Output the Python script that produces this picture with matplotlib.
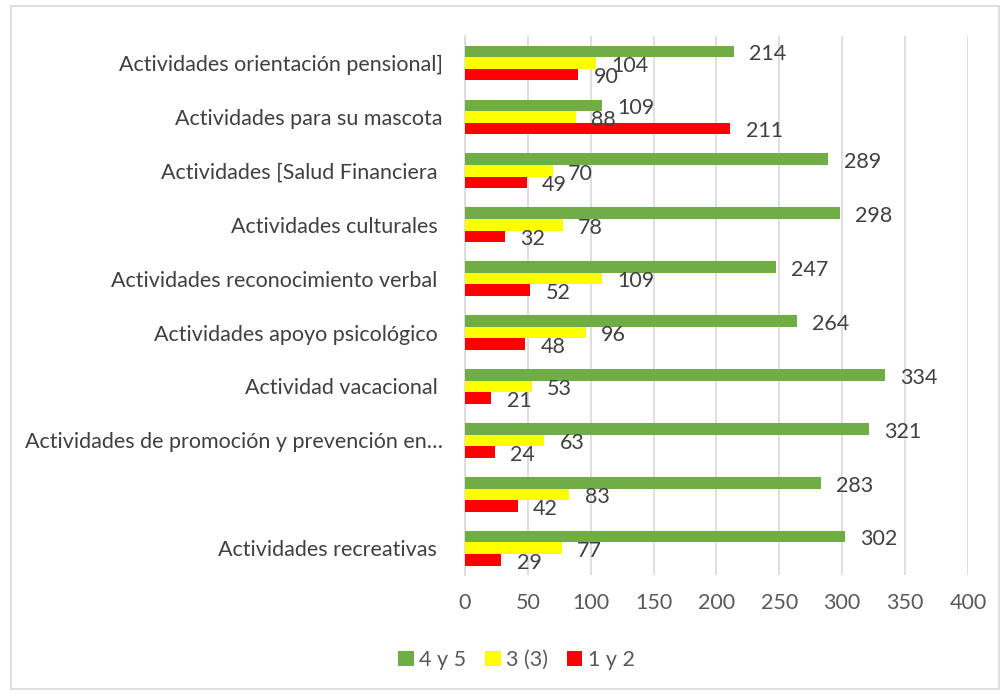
import matplotlib
matplotlib.use("Agg")
import matplotlib.pyplot as plt
import numpy as np
from matplotlib.patches import Rectangle

categories = [
    "Actividades orientación pensional]",
    "Actividades para su mascota",
    "Actividades [Salud Financiera ",
    "Actividades culturales ",
    "Actividades reconocimiento verbal ",
    "Actividades apoyo psicológico ",
    "Actividad vacacional ",
    "Actividades de promoción y prevención en…",
    "",
    "Actividades recreativas ",
]
series_names = ["4 y 5", "3 (3)", "1 y 2"]
v45 = [214, 109, 289, 298, 247, 264, 334, 321, 283, 302]
v3 = [104, 88, 70, 78, 109, 96, 53, 63, 83, 77]
v12 = [90, 211, 49, 32, 52, 48, 21, 24, 42, 29]
colors = ["#70AD47", "#FFFF00", "#FF0000"]
xticks = [0, 50, 100, 150, 200, 250, 300, 350, 400]

plt.rcParams['font.family'] = ['Lato', 'DejaVu Sans']
fig = plt.figure(figsize=(10.03, 6.93), dpi=100)
ax = fig.add_axes([0.4636, 0.170, 0.5014, 0.778])

n = len(categories)
y = np.arange(n)
h = 0.215
offsets = [-h, 0, h]
for vals, off, c, name in zip([v45, v3, v12], offsets, colors, series_names):
    bars = ax.barh(y + off, vals, height=h, color=c, label=name, zorder=3)
    for b, v in zip(bars, vals):
        ax.annotate(str(v), (b.get_width(), b.get_y() + b.get_height() / 2),
                    xytext=(11, -2), textcoords="offset points",
                    va="center", ha="left", fontsize=15.5, color="#404040", zorder=4)

ax.set_ylim(n - 0.5, -0.5)
ax.set_xlim(0, 400)
ax.set_xticks(xticks)
ax.set_xticklabels([str(t) for t in xticks])
ax.set_yticks(y)
ax.set_yticklabels(categories)
ax.tick_params(axis='x', length=0, labelsize=15.5, labelcolor="#595959", pad=13)
ax.tick_params(axis='y', length=0, labelsize=15.5, labelcolor="#404040", pad=16)
ax.grid(axis='x', color="#D9D9D9", linewidth=1.2, zorder=0)
for s in ["top", "right", "bottom"]:
    ax.spines[s].set_visible(False)
ax.spines["left"].set_color("#D9D9D9")
ax.spines["left"].set_linewidth(1.2)

leg = fig.legend(loc="center", bbox_to_anchor=(0.515, 0.048), ncol=3, frameon=False,
                 fontsize=15.5, handlelength=0.7, handleheight=0.7, handletextpad=0.25,
                 columnspacing=0.9, labelcolor="#595959")

fig.patches.append(Rectangle((0.011, 0.006), 0.985, 0.985, transform=fig.transFigure,
                             fill=False, edgecolor="#D9D9D9", linewidth=1.2))
fig.savefig("out.png", dpi=100)
